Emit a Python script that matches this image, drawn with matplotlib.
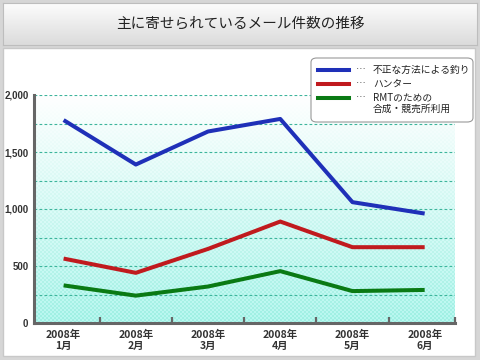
import matplotlib.pyplot as plt
import numpy as np
from matplotlib.patches import Rectangle, FancyBboxPatch
from matplotlib.lines import Line2D

plt.rcParams['font.family'] = ['Noto Sans CJK JP', 'DejaVu Sans']

title = "主に寄せられているメール件数の推移"
months = ["2008年\n1月", "2008年\n2月", "2008年\n3月", "2008年\n4月", "2008年\n5月", "2008年\n6月"]
phishing = [1780, 1390, 1680, 1790, 1060, 960]
hunter = [565, 440, 650, 890, 665, 665]
rmt = [330, 240, 320, 455, 280, 290]
labels = ["不正な方法による釣り", "ハンター", "RMTのための\n合成・競売所利用"]
colors = ["#1f30b8", "#c01a1e", "#0a7a14"]
yticks = [0, 500, 1000, 1500, 2000]
ytick_labels = ["0", "500", "1,000", "1,500", "2,000"]

W, H = 480, 360
fig = plt.figure(figsize=(4.8, 3.6), dpi=100)
fig.patch.set_facecolor("#d6d6d6")

def fx(px):
    return px / W

def fy(py):
    return 1 - py / H

# white panel behind everything
fig.add_artist(Rectangle((fx(3), fy(356)), fx(472), (356 - 48) / H,
                         transform=fig.transFigure, facecolor="white",
                         edgecolor="#c8c8c8", lw=1, zorder=-10))

# title bar with gray gradient
tb = fig.add_axes([fx(3), fy(45), fx(474), (45 - 3) / H])
grad = np.linspace(0, 1, 50).reshape(-1, 1)
tcol = np.array([0.86, 0.86, 0.86]) + grad[..., None] * (np.array([0.99, 0.99, 0.99]) - 0.86)
tb.imshow(tcol, aspect='auto', extent=[0, 1, 0, 1], origin='lower')
tb.set_xlim(0, 1)
tb.set_ylim(0, 1)
tb.set_xticks([])
tb.set_yticks([])
for s in tb.spines.values():
    s.set_color("#bdbdbd")
tb.text(0.5, 0.5, title, ha='center', va='center', fontsize=10.5, color="#222222")

ax = fig.add_axes([fx(34), fy(323), fx(421), (323 - 95) / H])
x = np.arange(len(months))
xlo, xhi = -0.41, 5.42

# gradient background with a fine checker
nh, nw = 228, 421
t = np.linspace(0, 1, nh)[:, None] * np.ones((1, nw))
top = np.array([1.0, 1.0, 1.0])
bot = np.array([0.62, 0.94, 0.89])
bot2 = np.array([0.72, 0.97, 0.94])
checker = ((np.arange(nh)[:, None] // 2 + np.arange(nw)[None, :] // 2) % 2).astype(float)
c1 = top + t[..., None] * (bot - top)
c2 = top + t[..., None] * (bot2 - top)
img = np.where(checker[..., None] > 0, c1, c2)
ax.imshow(img, aspect='auto', extent=[xlo, xhi, 0, 2000], origin='upper',
          interpolation='nearest', zorder=0)
ax.set_xlim(xlo, xhi)
ax.set_ylim(0, 2000)

for yv in range(250, 2001, 250):
    ax.axhline(yv, color="#3db59c", lw=0.8, ls=(0, (2.5, 2)), zorder=1)

for series, c in zip([phishing, hunter, rmt], colors):
    ax.plot(x, series, color=c, lw=2.9, solid_capstyle='butt', zorder=3)

for side in ['top', 'right']:
    ax.spines[side].set_visible(False)
for side in ['left', 'bottom']:
    ax.spines[side].set_color("#666666")
    ax.spines[side].set_linewidth(2.2)

ax.set_yticks(yticks)
ax.set_yticklabels(ytick_labels, fontsize=7, fontweight='bold', color="#333333",
                   family='Liberation Sans')
ax.tick_params(axis='y', length=0, pad=4)

ax.set_xticks(x)
ax.set_xticklabels(months, fontsize=7.5, fontweight='bold', color="#333333", linespacing=1.15)
ax.tick_params(axis='x', length=0, pad=5)
ax.set_xticks(np.append(np.arange(0.5, 5, 1), xhi), minor=True)
ax.tick_params(axis='x', which='minor', direction='in', length=4, width=1.6, color="#666666")

# legend box
fig.add_artist(FancyBboxPatch((fx(311), fy(122)), fx(162), (122 - 58) / H,
                              boxstyle="round,pad=0,rounding_size=0.012",
                              transform=fig.transFigure, facecolor="white",
                              edgecolor="#999999", lw=0.8, zorder=5))
rows = [70, 84, 98]
for py, c, lab in zip(rows, colors, labels):
    fig.add_artist(Line2D([fx(318), fx(349)], [fy(py), fy(py)], color=c, lw=2.9,
                          transform=fig.transFigure, zorder=6))
    fig.text(fx(356), fy(py), "…", fontsize=7, va='center', color="#333333", zorder=6)
    fig.text(fx(373), fy(py - 5.5), lab, fontsize=7, va='top', color="#222222",
             linespacing=1.15, zorder=6)

fig.savefig("out.png", dpi=100, facecolor=fig.get_facecolor())
